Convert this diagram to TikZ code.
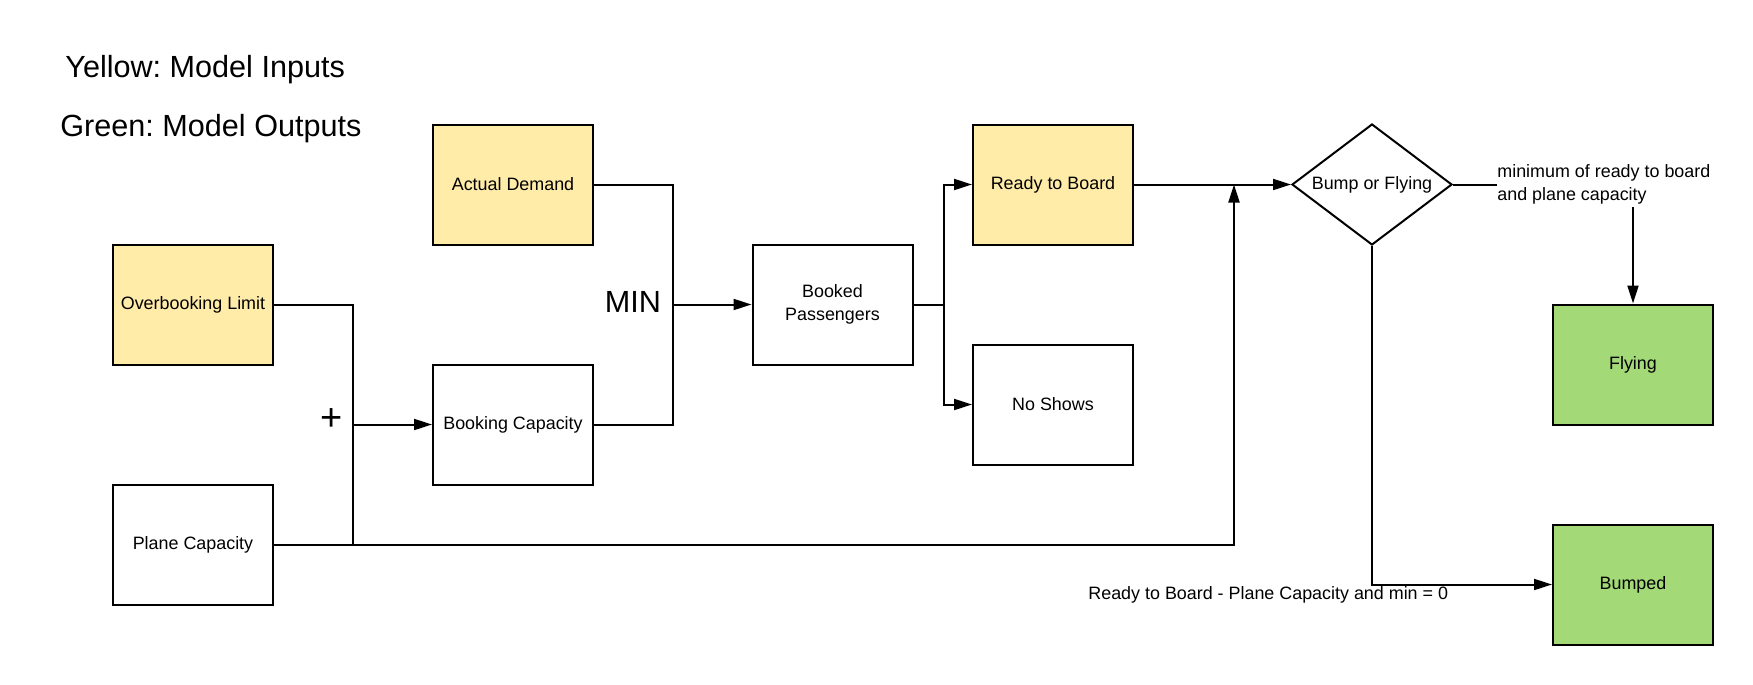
\documentclass[tikz,border=0pt]{standalone}
\usepackage{fontspec}
\setmainfont{Liberation Sans}
\frenchspacing
\usetikzlibrary{arrows.meta,shapes.geometric}
\definecolor{inyellow}{HTML}{FFECA9}
\definecolor{outgreen}{HTML}{A3D977}
\begin{document}
\begin{tikzpicture}[x=0.5pt,y=-0.5pt,
  box/.style={draw, line width=1pt, minimum width=80pt, minimum height=60pt, inner sep=2pt, font=\fontsize{8.95}{11.2}\selectfont, align=center},
  inbox/.style={box, fill=inyellow},
  outbox/.style={box, fill=outgreen},
  conn/.style={line width=1pt},
  arr/.style={conn, -{Triangle[length=9pt,width=5.5pt]}},
  small/.style={font=\fontsize{8.95}{11.2}\selectfont},
  big/.style={font=\fontsize{15.3}{18}\selectfont}]
\useasboundingbox (0,0) rectangle (1753,685);
% legend
\node[big, anchor=west, inner sep=0] (t1) at (65,70) {Yellow: Model Inputs};
\node[big, anchor=west, inner sep=0] (t2) at (60,129) {Green: Model Outputs};
% boxes
\node[inbox] (ol) at (193,304.5) {Overbooking Limit};
\node[box] (pc) at (193,545) {Plane Capacity};
\node[inbox] (ad) at (513,184.5) {Actual Demand};
\node[box] (bcap) at (513,424.5) {Booking Capacity};
\node[box] (bp) at (832.5,304.5) {Booked\\Passengers};
\node[inbox] (rb) at (1053,184.5) {Ready to Board};
\node[box] (ns) at (1053,404.5) {No Shows};
\node[draw, diamond, line width=1pt, minimum width=80pt, minimum height=60.5pt, aspect=1.32, inner sep=0pt, small] (dm) at (1372,184.5) {Bump or Flying};
\node[outbox] (fl) at (1633,364.5) {Flying};
\node[outbox] (bu) at (1633,584.5) {Bumped};
% operator labels
\node[big, inner sep=0] (min) at (633,302) {MIN};
\node[font=\fontsize{19}{22}\selectfont, inner sep=0] (plus) at (332,420) {+};
% edge labels
\node[small, anchor=west, align=left, inner sep=0] (lab1) at (1497,184.5) {minimum of ready to board\\and plane capacity};
\node[small, anchor=west, inner sep=0] (lab2) at (1088,595) {Ready to Board - Plane Capacity and min = 0};
% junction coordinates
\coordinate (jp) at (353,545);
\coordinate (jr) at (1234,184.5);
\coordinate (jm) at (673,304.5);
\coordinate (fa) at (1633,207);
% connectors
\draw[conn] (ol.east) -| (jp);
\draw[arr] (jp |- bcap.west) -- (bcap.west);
\draw[arr] (pc.east) -| (jr);
\draw[conn] (ad.east) -| (jm) |- (bcap.east);
\draw[arr] (jm) -- (bp.west);
\draw[arr] (bp.east) -- ++(30,0) |- (rb.west);
\draw[arr] (bp.east) -- ++(30,0) |- (ns.west);
\draw[arr] (rb.east) -- (dm.west);
\draw[conn] (dm.east) -- (lab1.west);
\draw[arr] (fa) -- (fl.north);
\draw[arr] (dm.south) |- (bu.west);
\end{tikzpicture}
\end{document}
